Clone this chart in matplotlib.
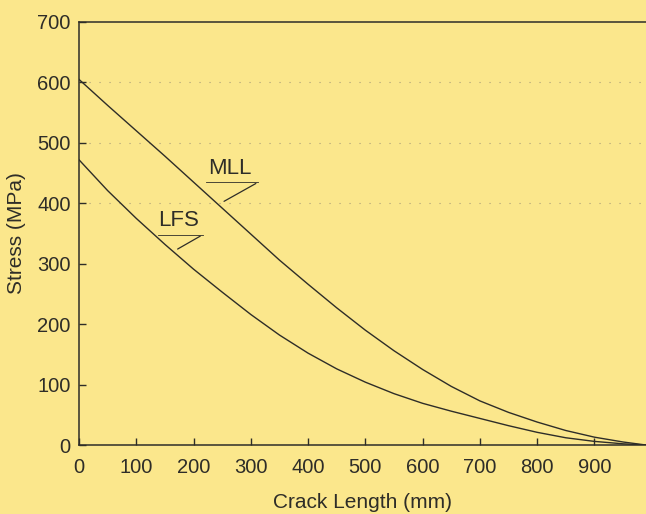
import matplotlib.pyplot as plt

# data (every 50 mm)
crack_mm = [0, 50, 100, 150, 200, 250, 300, 350, 400, 450, 500,
            550, 600, 650, 700, 750, 800, 850, 900, 950, 990]
stress_mll = [605, 562, 520, 478, 435, 392, 349, 306, 266, 227, 190,
              156, 125, 97, 73, 54, 38, 24, 13, 5, 0]
stress_lfs = [472, 421, 375, 332, 291, 253, 216, 182, 152, 126, 104,
              85, 69, 56, 44, 32, 21, 12, 6, 2, 0]

x_ticks = [0, 100, 200, 300, 400, 500, 600, 700, 800, 900]
y_ticks = [0, 100, 200, 300, 400, 500, 600, 700]
dotted_levels = [400, 500, 600]

paper = "#fbe78c"
ink = "#2e2d28"

plt.rcParams["font.family"] = ["Liberation Sans", "DejaVu Sans"]

fig = plt.figure(figsize=(6.46, 5.14), dpi=100, facecolor=paper)
ax = fig.add_axes([0.1223, 0.1342, 0.8777, 0.823])
ax.set_facecolor(paper)

for lvl in dotted_levels:
    ax.axhline(lvl, color="#a89d78", lw=0.8, ls=(0, (1, 8)), zorder=1)

ax.plot(crack_mm, stress_mll, color=ink, lw=1.0, zorder=3)
ax.plot(crack_mm, stress_lfs, color=ink, lw=1.0, zorder=3)

# leader labels
def leader(label, tx, ty, ux0, ux1, uy, px, py):
    ax.text(tx, ty, label, fontsize=16, color=ink, ha="center", va="center")
    ax.plot([ux0, ux1], [uy, uy], color=ink, lw=0.6)
    ax.annotate("", xy=(px, py), xytext=(ux1, uy),
                arrowprops=dict(arrowstyle="-", color=ink, lw=0.9))

leader("MLL", 263, 457, 222, 313, 435, 249, 401)
leader("LFS", 173, 371, 138, 216, 348, 168, 322)

ax.set_xlim(0, 990)
ax.set_ylim(0, 700)
ax.set_xticks(x_ticks)
ax.set_yticks(y_ticks)
ax.tick_params(axis="both", direction="in", length=5, width=1.0,
               colors=ink, labelsize=14.5, pad=6)
ax.tick_params(axis="x", pad=9)

for side in ["left", "bottom", "top"]:
    ax.spines[side].set_color(ink)
    ax.spines[side].set_linewidth(1.1)
ax.spines["right"].set_visible(False)

ax.set_xlabel("Crack Length (mm)", fontsize=15, color=ink, labelpad=12)
ax.set_ylabel("Stress (MPa)", fontsize=15, color=ink, labelpad=8)

fig.savefig("out.png", dpi=100, facecolor=paper)
